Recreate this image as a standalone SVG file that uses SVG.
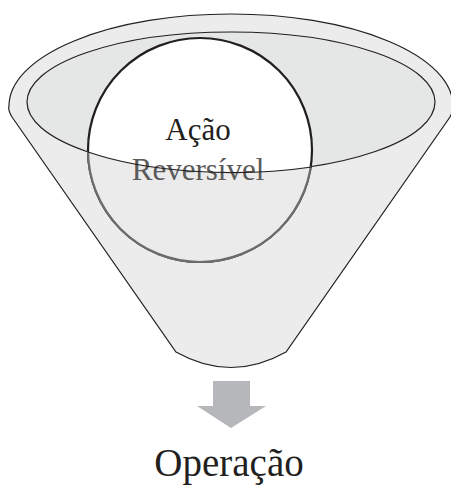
<svg xmlns="http://www.w3.org/2000/svg" width="451" height="488" viewBox="0 0 451 488">
<style>
.lbl{font-family:"Liberation Serif","Times New Roman",serif;text-anchor:middle}
.edge{stroke:#231f20;stroke-width:1.2}
</style>
<defs>
<clipPath id="outsideEllipse">
<path clip-rule="evenodd" d="M0,0 H451 V488 H0 Z M27,102 A204,70 0 1 0 435,102 A204,70 0 1 0 27,102 Z"/>
</clipPath>
</defs>
<rect width="451" height="488" fill="#ffffff"/>
<g id="funnel">
<path class="edge" fill="#ececec" d="M12,117 C9,112 8,109 9,106 A222,92 0 0 1 453,106 C453,110 452,113 450,117 L286,352 Q231,383 176,352 Z"/>
<ellipse class="edge" fill="#e5e6e6" cx="231" cy="102" rx="204" ry="70"/>
</g>
<g id="action">
<circle cx="200" cy="150" r="112" fill="#ffffff" stroke="#231f20" stroke-width="2.2"/>
<circle cx="200" cy="150" r="112" fill="#ebebeb" stroke="#6d6d6d" stroke-width="2.2" clip-path="url(#outsideEllipse)"/>
<text class="lbl" x="198" y="140" font-size="31" fill="#231f20">Ação</text>
<text class="lbl" x="198" y="180" font-size="31" fill="#5a5a5a">Reversível</text>
<path class="edge" fill="none" d="M88,152 A204,70 0 0 0 312,167"/>
</g>
<g id="connectors">
<path fill="#b6b7ba" d="M213,381 H250 V406 H266 L231,428 L197,406 H213 Z"/>
</g>
<g id="operation">
<text class="lbl" x="229" y="476" font-size="39" fill="#231f20">Operação</text>
</g>
</svg>
